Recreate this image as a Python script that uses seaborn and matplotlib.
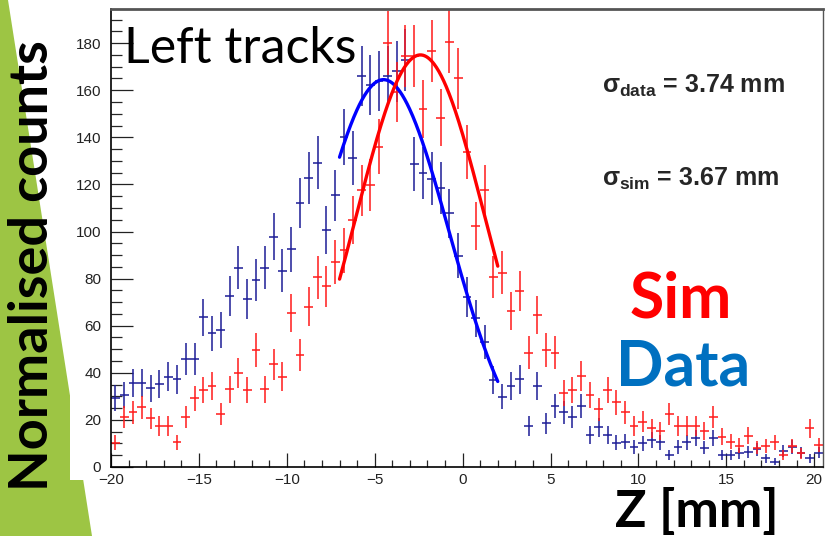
import numpy as np
import matplotlib
matplotlib.use("Agg")
import matplotlib.pyplot as plt
from matplotlib.patches import Polygon, Rectangle
from matplotlib.ticker import MultipleLocator
import seaborn as sns

# bin edges -20 .. 20.5 in 0.5 mm steps -> 81 bins
bin_lo, bin_hi, bin_w = -20.0, 20.5, 0.5
z_centres = np.arange(bin_lo + bin_w / 2, bin_hi, bin_w)

data_counts = [29.3, 30.6, 35.8, 35.8, 33.4, 35.2, 38.3, 37.2, 45.7, 45.7,
               63.5, 56.7, 58.1, 72.6, 84.6, 71.3, 79.4, 84.6, 97.8, 83.3,
               92.5, 112.3, 122.8, 129.3, 100.6, 115.4, 140.2, 131.4, 166.1, 162.1,
               163.8, 166.0, 168.0, 173.0, 128.6, 124.9, 122.5, 118.5, 107.8, 89.7,
               72.3, 63.1, 53.2, 36.9, 29.9, 34.4, 37.2, 17.4, 34.4, 18.5,
               25.9, 23.2, 21.4, 25.9, 13.6, 16.8, 13.6, 10.3, 10.8, 8.6,
               10.0, 11.5, 10.5, 5.1, 8.6, 10.5, 12.2, 8.2, 12.2, 5.1,
               5.1, 5.8, 6.5, 7.6, 3.7, 2.3, 6.8, 8.6, 6.1, 3.7, 6.1]

sim_counts = [10.3, 21.4, 23.2, 25.3, 20.7, 17.4, 17.4, 10.5, 21.4, 29.1,
              32.7, 34.5, 22.5, 33.1, 39.8, 32.7, 49.7, 33.1, 43.7, 38.3,
              65.2, 47.5, 68.0, 80.5, 76.8, 87.1, 92.1, 104.8, 117.6, 119.7,
              136.0, 180.1, 159.3, 174.6, 174.4, 152.2, 176.7, 148.4, 180.6, 165.0,
              133.8, 102.3, 117.6, 80.8, 82.5, 66.2, 74.7, 48.5, 64.5, 49.7,
              48.5, 31.3, 32.7, 38.6, 30.6, 24.5, 32.7, 27.5, 23.2, 17.5,
              19.2, 16.4, 15.3, 22.5, 17.5, 17.5, 17.5, 15.3, 21.4, 12.9,
              10.8, 9.1, 13.2, 8.2, 8.9, 10.5, 5.1, 8.9, 5.8, 16.4, 9.3]

# gaussian fit results (amplitude, mean, sigma) and fit range
fit_data = (164.5, -4.5, 3.74)
fit_sim = (175.0, -2.4, 3.67)
fit_range = (-7.0, 2.0)

W, H = 827, 536


def fx(x):
    return x / W


def fy(y):
    return 1 - y / H


sns.set_style("ticks")
plt.rcParams["mathtext.fontset"] = "custom"
plt.rcParams["mathtext.rm"] = "Liberation Sans:bold"
plt.rcParams["mathtext.it"] = "Liberation Sans:bold"
plt.rcParams["mathtext.bf"] = "Liberation Sans:bold"

fig = plt.figure(figsize=(8.27, 5.36), dpi=100)
fig.patch.set_facecolor("white")

# green slide decoration and the white ROOT canvas on top of it
fig.patches.append(Polygon([(0, 1), (fx(8), 1), (fx(92), 0), (0, 0)],
                           closed=True, transform=fig.transFigure,
                           facecolor="#9DC544", edgecolor="none", zorder=-3))
fig.patches.append(Rectangle((fx(70), fy(480)), 1 - fx(70), 1 - fy(480) + 0.001,
                             transform=fig.transFigure, facecolor="white",
                             edgecolor="none", zorder=-2))

ax = fig.add_axes([fx(111), fy(467), fx(823) - fx(111), fy(9) - fy(467)])
ax.set_facecolor("none")

navy = "#1c1c96"
ax.errorbar(z_centres, data_counts, xerr=bin_w / 2, yerr=np.sqrt(data_counts),
            fmt="none", ecolor=navy, elinewidth=1.1, capsize=0)
ax.errorbar(z_centres, sim_counts, xerr=bin_w / 2, yerr=np.sqrt(sim_counts),
            fmt="none", ecolor="#ff1a1a", elinewidth=1.1, capsize=0)

zf = np.linspace(fit_range[0], fit_range[1], 200)
for (amp, mu, sig), col in [(fit_data, "#0000ff"), (fit_sim, "#ff0000")]:
    sns.lineplot(x=zf, y=amp * np.exp(-0.5 * ((zf - mu) / sig) ** 2),
                 ax=ax, color=col, linewidth=2.4)

ax.set_xlim(bin_lo, bin_hi)
ax.set_ylim(0, 194.5)
ax.xaxis.set_major_locator(MultipleLocator(5))
ax.xaxis.set_minor_locator(MultipleLocator(1))
ax.yaxis.set_major_locator(MultipleLocator(20))
ax.yaxis.set_minor_locator(MultipleLocator(5))
ax.tick_params(axis="x", which="major", direction="in", length=10, width=0.9, pad=4,
               labelsize=11, colors="#222222")
ax.tick_params(axis="x", which="minor", direction="in", length=5, width=0.9)
ax.tick_params(axis="y", which="major", direction="in", length=16, width=0.9, pad=7,
               labelsize=11, colors="#222222")
ax.tick_params(axis="y", which="minor", direction="in", length=8, width=0.9)
for lab in ax.get_xticklabels() + ax.get_yticklabels():
    lab.set_fontfamily("Liberation Sans")
for side in ["left", "bottom"]:
    ax.spines[side].set_color("black")
    ax.spines[side].set_linewidth(1.2)
ax.spines["top"].set_color("#555555")
ax.spines["top"].set_linewidth(2.0)
ax.spines["right"].set_color("#555555")
ax.spines["right"].set_linewidth(1.0)
ax.set_xlabel("")
ax.set_ylabel("")

# annotations
fig.text(fx(124), fy(63), "Left tracks", fontsize=36, family="Lato",
         color="black", va="baseline", ha="left")
fig.text(fx(602), fy(93), r"$\sigma_{data}$ = 3.74 mm", fontsize=18,
         family="Liberation Sans", weight="bold", va="baseline", ha="left")
fig.text(fx(602), fy(186), r"$\sigma_{sim}$ = 3.67 mm", fontsize=18,
         family="Liberation Sans", weight="bold", va="baseline", ha="left")
fig.text(fx(630), fy(318), "Sim", fontsize=45, family="Lato", weight="bold",
         color="#ff0000", va="baseline", ha="left")
fig.text(fx(616), fy(385), "Data", fontsize=45, family="Lato", weight="bold",
         color="#0070c0", va="baseline", ha="left")
fig.text(fx(615), fy(527), "Z [mm]", fontsize=37.5, family="Lato", weight="bold",
         color="black", va="baseline", ha="left")
fig.text(fx(33), fy(266), "Normalised counts", fontsize=39, family="Lato",
         weight="bold", color="black", rotation=90, va="center", ha="center")

fig.savefig("out.png", dpi=100, facecolor="white")
